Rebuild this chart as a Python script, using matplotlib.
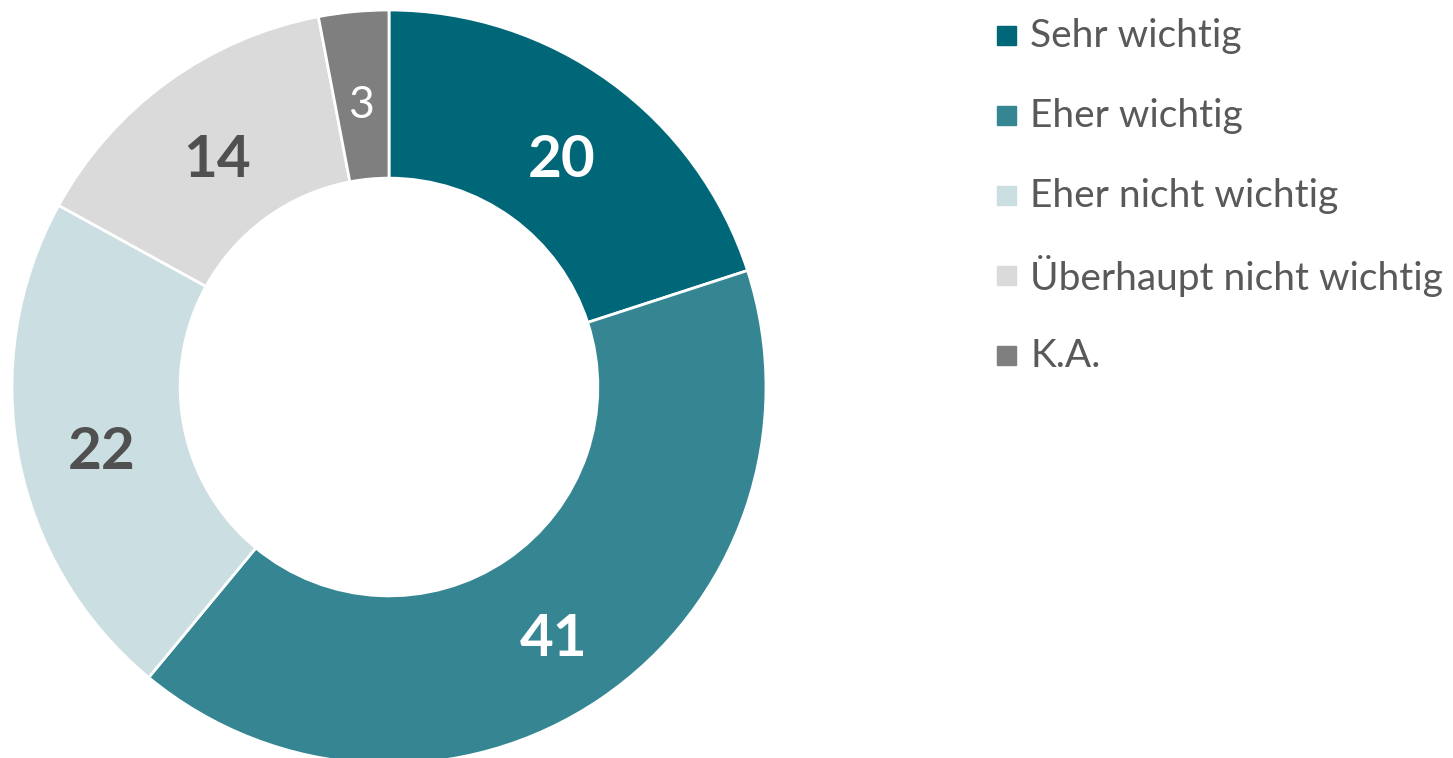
import matplotlib
matplotlib.use("Agg")
import matplotlib.pyplot as plt
from matplotlib.patches import Rectangle

# data
categories = ["Sehr wichtig", "Eher wichtig", "Eher nicht wichtig",
              "Überhaupt nicht wichtig", "K.A."]
values = [20, 41, 22, 14, 3]
colors = ["#006778", "#358692", "#cbdfe3", "#dadada", "#7f7f7f"]
label_colors = ["white", "white", "#505050", "#505050", "white"]
label_weights = ["bold", "bold", "bold", "bold", "normal"]

plt.rcParams['font.family'] = ['Lato', 'DejaVu Sans']

W, H = 1453, 758
fig = plt.figure(figsize=(W / 100, H / 100), dpi=100)

# donut centre (389, 387) px, outer radius 377 px
cx, cy, r = 389, 387, 377
ax = fig.add_axes([(cx - r) / W, (H - cy - r) / H, 2 * r / W, 2 * r / H])

ring = 0.446
wedges, texts, autotexts = ax.pie(
    values, colors=colors, startangle=90, counterclock=False, radius=1,
    wedgeprops=dict(width=ring, edgecolor="white", linewidth=2),
    autopct=lambda p: "%d" % round(p), pctdistance=1 - ring / 2,
)
ax.set_aspect("auto")
ax.set_xlim(-1, 1)
ax.set_ylim(-1, 1)
ax.axis("off")

for t, c, w in zip(autotexts, label_colors, label_weights):
    x, y = t.get_position()
    t.set_position((x, y - 0.027))
    t.set_color(c)
    t.set_fontweight(w)
    t.set_fontsize(42 if w == "bold" else 32)

# legend drawn by hand
row_y = [35, 115, 195, 275, 355]
for yy, name, col in zip(row_y, categories, colors):
    fig.patches.append(Rectangle((997 / W, (H - yy - 9.5) / H), 19 / W, 19 / H,
                                 color=col, transform=fig.transFigure,
                                 figure=fig))
    fig.text(1030 / W, (H - yy - 1) / H, name, fontsize=28, color="#595959",
             va="center", ha="left")

fig.savefig("out.png", dpi=100)
